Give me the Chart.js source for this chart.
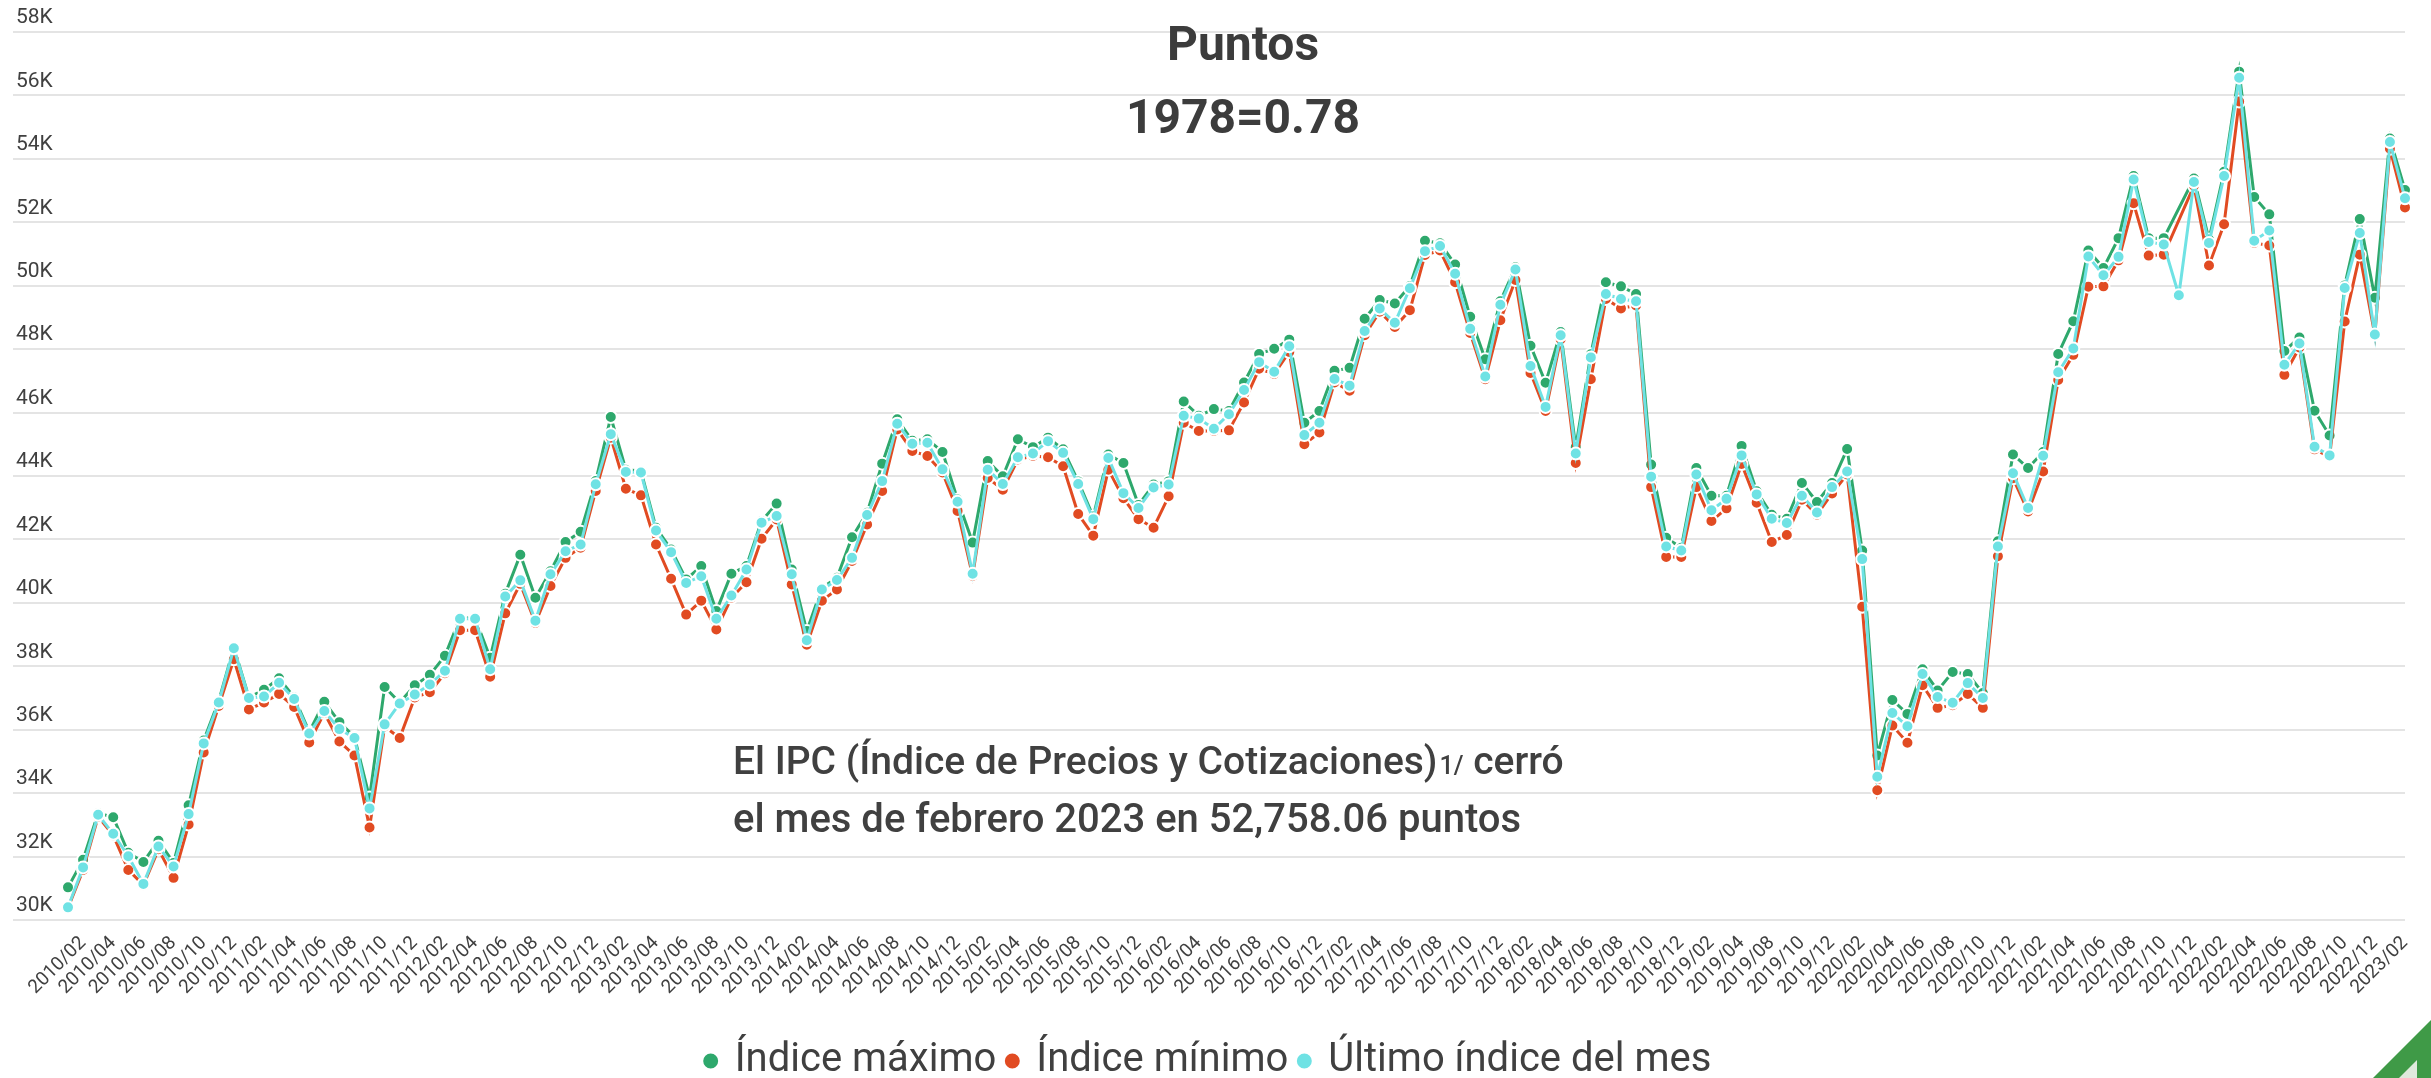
<!DOCTYPE html>
<html lang="es">
<head>
<meta charset="utf-8">
<title>IPC - Puntos</title>
<script src="https://cdn.jsdelivr.net/npm/chart.js"></script>
<style>
  html, body { margin: 0; padding: 0; background: #ffffff; }
  #contenedor { position: relative; width: 2431px; height: 1078px; }
</style>
</head>
<body>
<div id="contenedor"><canvas id="graficaIPC"></canvas></div>
<script>
"use strict"

// Meses (no hay datos de 2019/05 ni 2019/07)
const meses = [
    "2010/01", "2010/02", "2010/03", "2010/04", "2010/05", "2010/06", "2010/07", "2010/08", "2010/09", "2010/10", "2010/11", "2010/12",
    "2011/01", "2011/02", "2011/03", "2011/04", "2011/05", "2011/06", "2011/07", "2011/08", "2011/09", "2011/10", "2011/11", "2011/12",
    "2012/01", "2012/02", "2012/03", "2012/04", "2012/05", "2012/06", "2012/07", "2012/08", "2012/09", "2012/10", "2012/11", "2012/12",
    "2013/01", "2013/02", "2013/03", "2013/04", "2013/05", "2013/06", "2013/07", "2013/08", "2013/09", "2013/10", "2013/11", "2013/12",
    "2014/01", "2014/02", "2014/03", "2014/04", "2014/05", "2014/06", "2014/07", "2014/08", "2014/09", "2014/10", "2014/11", "2014/12",
    "2015/01", "2015/02", "2015/03", "2015/04", "2015/05", "2015/06", "2015/07", "2015/08", "2015/09", "2015/10", "2015/11", "2015/12",
    "2016/01", "2016/02", "2016/03", "2016/04", "2016/05", "2016/06", "2016/07", "2016/08", "2016/09", "2016/10", "2016/11", "2016/12",
    "2017/01", "2017/02", "2017/03", "2017/04", "2017/05", "2017/06", "2017/07", "2017/08", "2017/09", "2017/10", "2017/11", "2017/12",
    "2018/01", "2018/02", "2018/03", "2018/04", "2018/05", "2018/06", "2018/07", "2018/08", "2018/09", "2018/10", "2018/11", "2018/12",
    "2019/01", "2019/02", "2019/03", "2019/04", "2019/06", "2019/08", "2019/09", "2019/10", "2019/11", "2019/12",
    "2020/01", "2020/02", "2020/03", "2020/04", "2020/05", "2020/06", "2020/07", "2020/08", "2020/09", "2020/10", "2020/11", "2020/12",
    "2021/01", "2021/02", "2021/03", "2021/04", "2021/05", "2021/06", "2021/07", "2021/08", "2021/09", "2021/10", "2021/11", "2021/12",
    "2022/01", "2022/02", "2022/03", "2022/04", "2022/05", "2022/06", "2022/07", "2022/08", "2022/09", "2022/10", "2022/11", "2022/12",
    "2023/01", "2023/02"
];

// 2021/11 sin máximo ni mínimo registrados (la línea lo salta)
const indiceMaximo = [
    31030, 31900, 33370, 33240, 32120, 31830, 32500, 31800, 33620, 35660, 36910, 38600,
    37020, 37260, 37620, 37020, 35930, 36880, 36240, 35770, 33860, 37350, 36860, 37400,
    37730, 38330, 39520, 39520, 38270, 40290, 41520, 40160, 41000, 41920, 42240, 43840,
    45860, 44200, 44160, 42370, 41680, 40740, 41160, 39740, 40920, 41160, 42580, 43130,
    41050, 39110, 40470, 40790, 42070, 42840, 44390, 45790, 45110, 45160, 44760, 43260,
    41900, 44470, 43990, 45160, 44910, 45210, 44840, 43830, 42720, 44680, 44410, 43090,
    43730, 43830, 46350, 45900, 46110, 46050, 46950, 47850, 48010, 48300, 45680, 46050,
    47320, 47410, 48960, 49550, 49440, 49990, 51420, 51340, 50670, 49020, 47680, 49510,
    50580, 48110, 46940, 48540, 44910, 47840, 50110, 49980, 49740, 44360, 42050, 41740,
    44250, 43380, 43380, 44950, 43520, 42780, 42650, 43780, 43180, 43780,
    44850, 41650, 35190, 36940, 36500, 37910, 37240, 37820, 37760, 37160, 41940, 44680,
    44250, 44760, 47850, 48880, 51110, 50560, 51500, 53460, 51500, 51500, null, 53380,
    51460, 53590, 56750, 52800, 52250, 47940, 48370, 46060, 45280, 50010, 52100, 49620,
    54640, 53020
];

const indiceMinimo = [
    30380, 31580, 33260, 32670, 31580, 31100, 32230, 31330, 33010, 35280, 36750, 38220,
    36640, 36860, 37130, 36720, 35600, 36530, 35630, 35190, 32920, 36100, 35740, 37020,
    37180, 37780, 39140, 39140, 37670, 39670, 40600, 39370, 40530, 41420, 41740, 43530,
    45210, 43600, 43390, 41840, 40760, 39630, 40070, 39160, 40160, 40650, 42020, 42630,
    40580, 38680, 40070, 40420, 41320, 42470, 43530, 45470, 44790, 44630, 44110, 42900,
    40850, 43940, 43570, 44520, 44630, 44590, 44310, 42800, 42120, 44200, 43300, 42640,
    42370, 43360, 45680, 45420, 45420, 45440, 46320, 47380, 47220, 47910, 45000, 45370,
    46950, 46690, 48440, 49180, 48700, 49230, 50970, 51110, 50110, 48510, 47050, 48910,
    50180, 47250, 46050, 48310, 44410, 47050, 49580, 49280, 49380, 43650, 41450, 41450,
    43650, 42580, 42980, 44380, 43160, 41920, 42140, 43250, 42780, 43450,
    44050, 39880, 34090, 36130, 35590, 37400, 36690, 36770, 37130, 36690, 41470, 43930,
    42880, 44140, 47030, 47820, 49970, 49980, 50800, 52600, 50950, 50980, null, 53150,
    50640, 51940, 55810, 51350, 51270, 47190, 48050, 44840, 44610, 48870, 50980, 48450,
    54320, 52470
];

const ultimoIndice = [
    30400, 31660, 33320, 32720, 32010, 31140, 32320, 31690, 33340, 35570, 36860, 38570,
    37000, 37050, 37480, 36970, 35880, 36590, 36020, 35740, 33520, 36170, 36830, 37110,
    37430, 37860, 39500, 39500, 37910, 40200, 40710, 39440, 40900, 41630, 41840, 43740,
    45320, 44130, 44110, 42280, 41600, 40630, 40840, 39500, 40230, 41050, 42530, 42740,
    40900, 38820, 40420, 40720, 41420, 42770, 43840, 45650, 45020, 45050, 44210, 43190,
    40920, 44200, 43750, 44590, 44710, 45100, 44730, 43750, 42640, 44570, 43460, 42990,
    43640, 43730, 45900, 45810, 45490, 45950, 46710, 47590, 47290, 48090, 45290, 45680,
    47060, 46850, 48570, 49280, 48830, 49920, 51090, 51250, 50380, 48640, 47140, 49400,
    50510, 47470, 46180, 48440, 44710, 47740, 49740, 49580, 49510, 43980, 41780, 41650,
    44050, 42920, 43280, 44650, 43420, 42650, 42520, 43380, 42850, 43650,
    44140, 41380, 34520, 36530, 36110, 37760, 37030, 36850, 37470, 37000, 41780, 44090,
    42990, 44640, 47270, 48020, 50920, 50330, 50910, 53350, 51380, 51300, 49700, 53270,
    51350, 53460, 56560, 51420, 51740, 47510, 48180, 44920, 44650, 49930, 51660, 48460,
    54530, 52758.06
];

const nombresSeries = ["Índice máximo", "Índice mínimo", "Último índice del mes"];
const coloresSeries = ["#2ea86c", "#e14b22", "#6fe2e4"];

const colorTexto = "#404040";

Chart.defaults.font.family = "Roboto, 'Noto Sans', sans-serif";
Chart.defaults.color = colorTexto;

// Textos fijos sobre el lienzo: título, nota del cierre y la esquina verde
const textosFijos = {
    id: "textosFijos",
    beforeDatasetsDraw(chart) {
        const { ctx } = chart;
        ctx.save();
        ctx.fillStyle = "#3c3c3c";
        ctx.textAlign = "center";
        ctx.textBaseline = "middle";
        ctx.font = "bold 48px Roboto";
        ctx.fillText("Puntos", 1243, 48);
        ctx.fillText("1978=0.78", 1243, 121);

        // nota del cierre de febrero
        ctx.textAlign = "left";
        ctx.textBaseline = "alphabetic";
        ctx.fillStyle = colorTexto;
        let x = 733;
        ctx.font = "500 39px Roboto";
        const parte1 = "El IPC (Índice de Precios y Cotizaciones)";
        ctx.fillText(parte1, x, 774);
        x += ctx.measureText(parte1).width + 2;
        ctx.font = "500 25px Roboto";
        ctx.fillText("1/", x, 774);
        x += ctx.measureText("1/").width;
        ctx.font = "500 39px Roboto";
        ctx.fillText(" cerró", x, 774);
        ctx.font = "500 40px Roboto";
        ctx.fillText("el mes de febrero 2023 en 52,758.06 puntos", 733, 832);
        ctx.restore();
    },
    afterDraw(chart) {
        const { ctx, width, height } = chart;
        ctx.save();
        ctx.fillStyle = "#3f9a47";
        ctx.beginPath();
        ctx.moveTo(width, height - 58);
        ctx.lineTo(width, height);
        ctx.lineTo(width - 58, height);
        ctx.closePath();
        ctx.fill();
        ctx.fillStyle = "#dfe9dc";
        ctx.beginPath();
        ctx.moveTo(width - 14, height - 18);
        ctx.lineTo(width - 14, height);
        ctx.lineTo(width - 32, height);
        ctx.closePath();
        ctx.fill();
        ctx.restore();
    }
};

function serie(indice, datos, orden) {
    const color = coloresSeries[indice];
    return {
        label: nombresSeries[indice],
        data: datos,
        borderColor: color,
        backgroundColor: color,
        borderWidth: 3,
        pointRadius: 6,
        pointBorderWidth: 2,
        pointBorderColor: "#ffffff",
        pointBackgroundColor: color,
        tension: 0,
        spanGaps: true,
        order: orden
    };
}

new Chart(document.getElementById("graficaIPC"), {
    type: "line",
    data: {
        labels: meses,
        datasets: [
            serie(0, indiceMaximo, 3),
            serie(1, indiceMinimo, 2),
            serie(2, ultimoIndice, 1)
        ]
    },
    options: {
        responsive: true,
        maintainAspectRatio: false,
        animation: false,
        layout: {
            padding: { left: 13, right: 26, top: 32, bottom: -13 }
        },
        scales: {
            x: {
                offset: false,
                grid: { display: false },
                border: { display: false },
                ticks: {
                    autoSkip: false,
                    minRotation: 45,
                    maxRotation: 45,
                    padding: 4,
                    color: colorTexto,
                    font: { size: 19 },
                    callback(valor, i) {
                        return i % 2 === 1 ? this.getLabelForValue(valor) : "";
                    }
                },
                // espacio libre entre las fechas y la leyenda
                afterFit(escala) { escala.height += 26; }
            },
            y: {
                min: 30000,
                max: 58000,
                border: { display: false },
                grid: { color: "#e4e4e4", lineWidth: 2, tickLength: 55 },
                ticks: {
                    stepSize: 2000,
                    mirror: true,
                    padding: -52,
                    labelOffset: -14,
                    color: colorTexto,
                    font: { size: 21 },
                    callback: (v) => (v / 1000) + "K"
                },
                afterFit(escala) { escala.width = 55; }
            }
        },
        plugins: {
            legend: {
                position: "bottom",
                labels: {
                    usePointStyle: true,
                    pointStyle: "circle",
                    boxWidth: 8,
                    boxHeight: 12,
                    padding: 12,
                    color: colorTexto,
                    font: { size: 40 },
                    sort: (a, b) => a.datasetIndex - b.datasetIndex
                }
            },
            tooltip: { enabled: false }
        }
    },
    plugins: [textosFijos]
});
</script>
</body>
</html>
